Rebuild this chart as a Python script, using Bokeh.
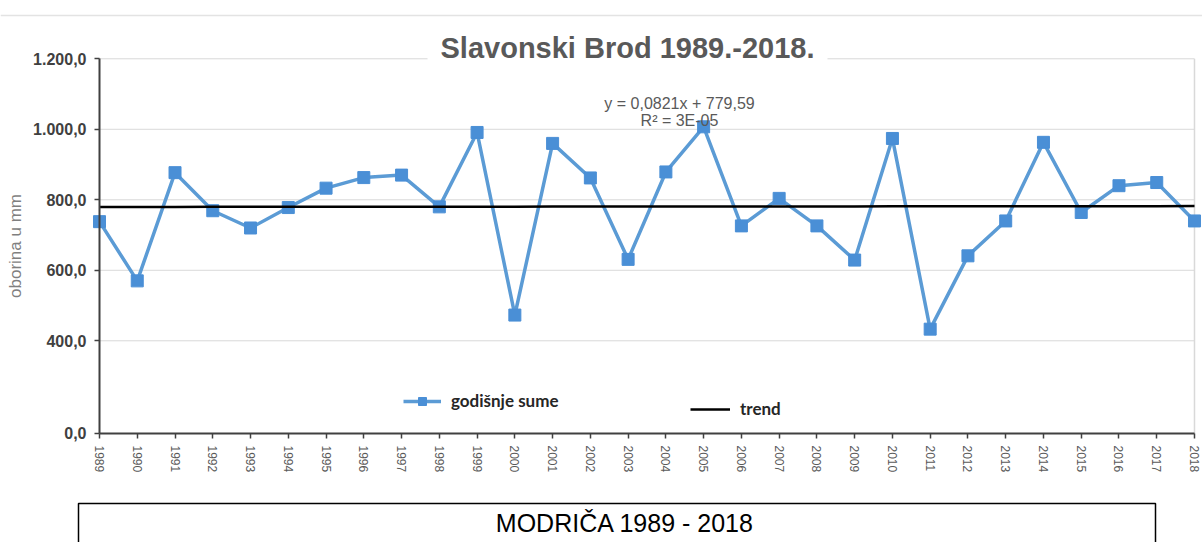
import math
from bokeh.plotting import figure
from bokeh.models import Range1d, FixedTicker, Label, Legend, LegendItem, BoxAnnotation, Span
from bokeh.layouts import column
from bokeh.embed import file_html
from bokeh.resources import INLINE

# ---------------- data ----------------
years = [1989, 1990, 1991, 1992, 1993, 1994, 1995, 1996, 1997, 1998,
         1999, 2000, 2001, 2002, 2003, 2004, 2005, 2006, 2007, 2008,
         2009, 2010, 2011, 2012, 2013, 2014, 2015, 2016, 2017, 2018]
annual_totals = [738, 570, 877, 769, 720, 778, 833, 863, 870, 780,
                 991, 473, 960, 862, 631, 879, 1007, 726, 804, 726,
                 629, 974, 433, 641, 740, 963, 764, 840, 849, 740]
trend_slope = 0.0821
trend_intercept = 779.59
trend_values = [trend_slope * (i + 1) + trend_intercept for i in range(len(years))]

y_tick_values = [400, 600, 800, 1000, 1200]
y_tick_labels = ["400,0", "600,0", "800,0", "1.000,0", "1.200,0"]
y_floor_label = "0,0"

title_text = "Slavonski Brod 1989.-2018."
equation_text = "y = 0,0821x + 779,59"
r2_text = "R² = 3E-05"
series_label = "godišnje sume"
trend_label = "trend"
y_axis_title = "oborina u mm"
caption_text = "MODRIČA  1989 - 2018"

# ---------------- layout / style ----------------
FONT = "Liberation Sans"
W = 1202
Y_FLOOR = 137          # axis floor (labelled "0,0" as in the source figure)
Y_START = -47.4        # frame extends below the axis so tick labels are not clipped
Y_END = 1328.5         # frame top (room for the title inside the frame)
X_START = 1986.378     # frame spans the full width so axis labels are not clipped
X_END = 2018.212
BLUE_LINE = "#5b9bd5"
BLUE_MARK = "#4a8fd6"
GRID = "#d9d9d9"
AXIS = "#404040"

p = figure(width=W, height=498, output_backend="svg", toolbar_location=None,
           x_range=Range1d(X_START, X_END), y_range=Range1d(Y_START, Y_END),
           min_border_left=0, min_border_right=0, min_border_top=13, min_border_bottom=0,
           background_fill_color="white", border_fill_color="white")
p.outline_line_color = None

# x axis, fixed at the axis floor
p.xaxis.fixed_location = Y_FLOOR
p.xaxis.ticker = FixedTicker(ticks=years)
p.xaxis.bounds = (years[0], years[-1])
p.xaxis.major_label_orientation = -math.pi / 2
p.xaxis.major_label_text_font = FONT
p.xaxis.major_label_text_font_size = "12px"
p.xaxis.major_label_text_color = "#595959"
p.xaxis.major_label_standoff = 7
p.xaxis.axis_line_color = AXIS
p.xaxis.axis_line_width = 2
p.xaxis.major_tick_line_color = AXIS
p.xaxis.major_tick_line_width = 1.5
p.xaxis.major_tick_in = 0
p.xaxis.major_tick_out = 5
p.xaxis.minor_tick_line_color = None

# y axis, fixed at the first year
p.yaxis.fixed_location = years[0]
p.yaxis.bounds = (Y_FLOOR, y_tick_values[-1])
p.yaxis.ticker = FixedTicker(ticks=[Y_FLOOR] + y_tick_values)
overrides = {Y_FLOOR: y_floor_label}
for v, s in zip(y_tick_values, y_tick_labels):
    overrides[v] = s
p.yaxis.major_label_overrides = overrides
p.yaxis.major_label_text_font = FONT
p.yaxis.major_label_text_font_size = "16px"
p.yaxis.major_label_text_font_style = "bold"
p.yaxis.major_label_text_color = "#404040"
p.yaxis.major_label_standoff = 8
p.yaxis.axis_line_color = AXIS
p.yaxis.axis_line_width = 2
p.yaxis.major_tick_line_color = AXIS
p.yaxis.major_tick_line_width = 1.5
p.yaxis.major_tick_in = 0
p.yaxis.major_tick_out = 5
p.yaxis.minor_tick_line_color = None
p.yaxis.axis_label = y_axis_title
p.yaxis.axis_label_text_font = FONT
p.yaxis.axis_label_text_font_size = "17px"
p.yaxis.axis_label_text_font_style = "normal"
p.yaxis.axis_label_text_color = "#7f7f7f"
p.yaxis.axis_label_standoff = 5

p.xgrid.visible = False
p.ygrid.visible = False

# grid lines limited to the plotted span, and right-hand border of the plot area
p.segment(x0=years[0], x1=years[-1], y0=y_tick_values, y1=y_tick_values,
          line_color=GRID, line_width=1, level="underlay")
p.segment(x0=[years[-1]], x1=[years[-1]], y0=[Y_FLOOR], y1=[y_tick_values[-1]],
          line_color=GRID, line_width=1.5, level="underlay")
# faint frame line at the very top of the chart
p.add_layout(Span(location=1323, dimension="width", line_color="#e3e3e3", line_width=1.5))

# series
line_r = p.line(years, annual_totals, line_color=BLUE_LINE, line_width=3.5)
pts_r = p.scatter(years, annual_totals, marker="square", size=12,
                  fill_color=BLUE_MARK, line_color=BLUE_MARK)
trend_r = p.line(years, trend_values, line_color="black", line_width=2.5)

# legends (two separate entries as in the source); screen y measured from frame bottom
FRAME_BOTTOM_OFFSET = 65
common = dict(padding=0, margin=0, spacing=0, glyph_height=20, label_height=20,
              label_standoff=10, background_fill_alpha=0, border_line_alpha=0,
              label_text_font="Lato", label_text_font_style="bold",
              label_text_font_size="17px", label_text_color="#262626")
leg1 = Legend(items=[LegendItem(label=series_label, renderers=[line_r, pts_r])],
              location=(403, 22 + FRAME_BOTTOM_OFFSET), glyph_width=38, **common)
leg2 = Legend(items=[LegendItem(label=trend_label, renderers=[trend_r])],
              location=(690, 14 + FRAME_BOTTOM_OFFSET), glyph_width=40, **common)
p.add_layout(leg1)
p.add_layout(leg2)

# title sitting on the top border
title = Label(x=627, y=386 + FRAME_BOTTOM_OFFSET, x_units="screen", y_units="screen",
              text=title_text, text_font=FONT, text_font_size="29px", text_font_style="bold",
              text_color="#595959", text_align="center", text_baseline="middle",
              background_fill_color="white", padding=(13, 5))
p.add_layout(title)

eq1 = Label(x=679, y=330 + FRAME_BOTTOM_OFFSET, x_units="screen", y_units="screen",
            text=equation_text, text_font=FONT, text_font_size="16px", text_color="#595959",
            text_align="center", text_baseline="middle")
eq2 = Label(x=679, y=313 + FRAME_BOTTOM_OFFSET, x_units="screen", y_units="screen",
            text=r2_text, text_font=FONT, text_font_size="16px", text_color="#595959",
            text_align="center", text_baseline="middle")
p.add_layout(eq1)
p.add_layout(eq2)

# ---------------- caption box below ----------------
p2 = figure(width=W, height=44, output_backend="svg", toolbar_location=None,
            x_range=Range1d(0, W), y_range=Range1d(0, 44),
            min_border_left=0, min_border_right=0, min_border_top=0, min_border_bottom=0,
            x_axis_type=None, y_axis_type=None,
            background_fill_color="white", border_fill_color="white")
p2.outline_line_color = None
box = BoxAnnotation(left=78, right=1155, top=39, bottom=-10, fill_alpha=0,
                    line_color="black", line_alpha=1.0, line_width=1.5)
p2.add_layout(box)
cap = Label(x=628, y=20, text=caption_text, text_font=FONT, text_font_size="25px",
            text_color="black", text_align="center", text_baseline="middle")
p2.add_layout(cap)

layout = column(p, p2, spacing=0)
open("out.html", "w").write(file_html(layout, INLINE))
